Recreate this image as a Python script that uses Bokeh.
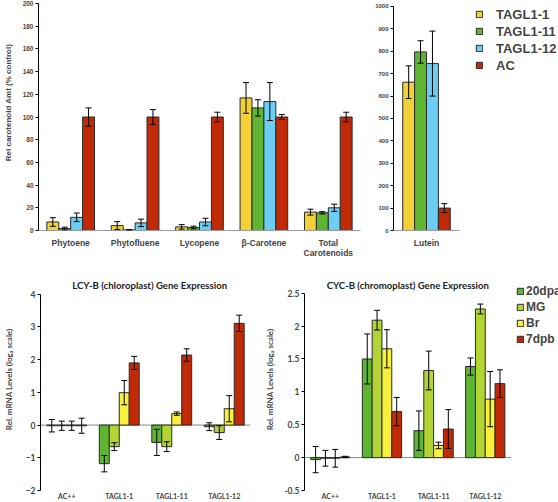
from bokeh.plotting import figure
from bokeh.layouts import column, row
from bokeh.models import (ColumnDataSource, Range1d, Whisker, TeeHead, Legend, LegendItem,
                          FixedTicker, NumeralTickFormatter, Label)
from bokeh.embed import file_html
from bokeh.resources import INLINE

# ---------------- data ----------------
carot_cats = ["Phytoene", "Phytofluene", "Lycopene", "\u03b2-Carotene", "Total\nCarotenoids"]
lines_top = ["TAGL1-1", "TAGL1-11", "TAGL1-12", "AC"]
carot_vals = {
    "TAGL1-1":  [7.5, 4.3, 3.2, 116.8, 16.2],
    "TAGL1-11": [1.7, 0.5, 2.6, 108.0, 15.6],
    "TAGL1-12": [11.6, 6.7, 7.5, 113.6, 20.0],
    "AC":       [100, 100, 100, 100, 100],
}
carot_err = {
    "TAGL1-1":  [3.8, 3.5, 2.0, 13.5, 2.6],
    "TAGL1-11": [1.2, 0.3, 1.2, 7.2, 1.0],
    "TAGL1-12": [3.8, 3.3, 3.3, 16.7, 3.2],
    "AC":       [8.0, 6.5, 4.2, 2.2, 4.2],
}
lutein_cats = ["Lutein"]
lutein_vals = {"TAGL1-1": [662], "TAGL1-11": [797], "TAGL1-12": [745], "AC": [100]}
lutein_err = {"TAGL1-1": [73], "TAGL1-11": [50], "TAGL1-12": [145], "AC": [20]}
top_colors = ["#F3D136", "#5DB531", "#6DCEF5", "#C02A06"]

gene_cats = ["AC++", "TAGL1-1", "TAGL1-11", "TAGL1-12"]
stages = ["20dpa", "MG", "Br", "7dpb"]
stage_colors = ["#5DB531", "#B4D334", "#F8F03A", "#C02A06"]
lcyb_vals = {
    "20dpa": [-0.02, -1.18, -0.53, -0.05],
    "MG":    [-0.02, -0.66, -0.66, -0.23],
    "Br":    [-0.02, 0.99, 0.35, 0.50],
    "7dpb":  [-0.02, 1.90, 2.14, 3.11],
}
lcyb_err = {
    "20dpa": [0.19, 0.25, 0.40, 0.12],
    "MG":    [0.14, 0.12, 0.15, 0.21],
    "Br":    [0.14, 0.37, 0.05, 0.40],
    "7dpb":  [0.23, 0.20, 0.19, 0.25],
}
cycb_vals = {
    "20dpa": [-0.03, 1.50, 0.41, 1.385],
    "MG":    [-0.01, 2.09, 1.325, 2.26],
    "Br":    [-0.01, 1.655, 0.185, 0.89],
    "7dpb":  [0.01, 0.70, 0.435, 1.125],
}
cycb_err = {
    "20dpa": [0.20, 0.38, 0.30, 0.13],
    "MG":    [0.12, 0.15, 0.295, 0.075],
    "Br":    [0.135, 0.29, 0.05, 0.42],
    "7dpb":  [0.01, 0.215, 0.295, 0.21],
}

ARIAL = "Liberation Sans"
CAL = "Lato"
NB = "\u00a0"


def grouped(p, cats, series, vals, errs, colors, width):
    renderers = []
    n = len(series)
    for k, s in enumerate(series):
        off = (k - (n - 1) / 2) * width
        xs = [i + 0.5 + off for i in range(len(cats))]
        v = vals[s]
        e = errs[s]
        src = ColumnDataSource(dict(x=xs, top=v,
                                    upper=[a + b for a, b in zip(v, e)],
                                    lower=[a - b for a, b in zip(v, e)]))
        r = p.vbar(x="x", top="top", bottom=0, width=width, source=src,
                   fill_color=colors[k], line_color="#2a2a2a", line_width=1)
        w = Whisker(base="x", upper="upper", lower="lower", source=src,
                    line_color="black", line_width=1, level="annotation",
                    upper_head=TeeHead(size=6, line_color="black", line_width=1),
                    lower_head=TeeHead(size=6, line_color="black", line_width=1))
        p.add_layout(w)
        renderers.append((s, r))
    return renderers


def style(p, font, tick_size, cats, cat_size, label_font, xline="#9a9a9a"):
    p.grid.grid_line_color = None
    p.outline_line_color = None
    p.background_fill_color = "white"
    p.border_fill_color = "white"
    p.xaxis.ticker = FixedTicker(ticks=[i + 0.5 for i in range(len(cats))])
    p.xaxis.major_label_overrides = {i + 0.5: c for i, c in enumerate(cats)}
    p.xaxis.bounds = (0, len(cats))
    p.xaxis.major_tick_line_color = None
    p.xaxis.minor_tick_line_color = None
    p.xaxis.major_tick_in = 0
    p.xaxis.major_tick_out = 0
    p.xaxis.minor_tick_in = 0
    p.xaxis.minor_tick_out = 0
    p.xaxis.axis_label_standoff = 0
    p.xaxis.axis_line_color = xline
    p.xaxis.major_label_text_font = label_font
    p.xaxis.major_label_text_font_style = "bold"
    p.xaxis.major_label_text_font_size = cat_size
    p.xaxis.major_label_text_line_height = 1.0
    p.yaxis.major_label_text_font = font
    p.yaxis.major_label_text_font_style = "bold"
    p.yaxis.major_label_text_font_size = tick_size
    p.yaxis.axis_line_color = "black"
    p.yaxis.major_tick_line_color = "black"
    p.yaxis.major_tick_in = 0
    p.yaxis.major_tick_out = 3
    p.yaxis.minor_tick_line_color = None
    p.yaxis.minor_tick_in = 0
    p.yaxis.minor_tick_out = 0
    p.yaxis.major_label_standoff = 2


def fig(w, h, left, right, top, bottom, yr, xmax):
    return figure(width=w, height=h, min_border_left=left, min_border_right=right,
                  min_border_top=top, min_border_bottom=bottom, x_range=Range1d(0, xmax),
                  y_range=yr, output_backend="svg", toolbar_location=None, title=None)


def legend(p, items, loc, font_size, standoff, row_h):
    leg = Legend(items=[LegendItem(label=s, renderers=[r]) for s, r in items],
                 location=loc, padding=0, margin=0, spacing=1,
                 glyph_width=8, glyph_height=8, label_standoff=standoff, label_height=row_h,
                 label_text_font=ARIAL, label_text_font_style="bold",
                 label_text_font_size=font_size, border_line_color=None,
                 background_fill_alpha=0)
    p.add_layout(leg)


def panel_title(p, x, y, text):
    p.add_layout(Label(x=x, y=y, text=text, text_align="center", text_baseline="middle",
                       text_font=CAL, text_font_size="9.6px", text_font_style="bold",
                       text_color="#222222"))


def ylabel(p, text, font, standoff):
    p.yaxis.axis_label = text
    p.yaxis.axis_label_text_font = font
    p.yaxis.axis_label_text_font_style = "bold"
    p.yaxis.axis_label_text_font_size = "8px"
    p.yaxis.axis_label_standoff = standoff


# ---------- top-left ----------
pa = fig(365, 260, 35, 5, 3, 27, Range1d(0, 200), len(carot_cats))
grouped(pa, carot_cats, lines_top, carot_vals, carot_err, top_colors, 0.185)
style(pa, ARIAL, "6.5px", carot_cats, "8.5px", ARIAL)
pa.yaxis.ticker = FixedTicker(ticks=list(range(0, 201, 20)))
ylabel(pa, NB * 13 + "Rel carotenoid Amt (% control)", ARIAL, 7)
pa.xaxis.major_label_standoff = 7

# ---------- lutein (frame extends under the legend) ----------
b_ppu = 227 / 1000
pb = fig(193, 260, 28, 0, 3, 27, Range1d(0, 230 / b_ppu), len(lutein_cats) * 165 / 66)
rb = grouped(pb, lutein_cats, lines_top, lutein_vals, lutein_err, top_colors, 0.18)
style(pb, ARIAL, "6px", lutein_cats, "8.5px", ARIAL)
pb.yaxis.ticker = FixedTicker(ticks=list(range(0, 1001, 100)))
pb.yaxis.bounds = (0, 1000)
pb.xaxis.major_label_standoff = 7
legend(pb, rb, (82, 157), "13px", 13, 16)

# ---------- LCY-B (frame extends under the title) ----------
frame_h = 232
c_ppu = 198 / 6.0
c_lo = -2
pc = fig(262, 242, 35, 12, 0, 10, Range1d(c_lo, c_lo + frame_h / c_ppu), len(gene_cats))
pc.segment(x0=0, y0=0, x1=len(gene_cats), y1=0, line_color="#8a8a8a", line_width=1)
grouped(pc, gene_cats, stages, lcyb_vals, lcyb_err, stage_colors, 0.19)
style(pc, CAL, "8.5px", gene_cats, "7px", CAL, xline=None)
pc.yaxis.ticker = FixedTicker(ticks=list(range(-2, 5)))
pc.yaxis.bounds = (-2, 4)
ylabel(pc, "Rel. mRNA Levels (log\u2082 scale)" + NB * 4, CAL, 9)
pc.xaxis.major_label_standoff = 1
panel_title(pc, len(gene_cats) / 2 + 0.08, c_lo + (frame_h - 25) / c_ppu,
            "LCY-B (chloroplast) Gene Expression")

# ---------- CYC-B (frame extends under the legend and title) ----------
d_ppu = 199 / 3.0
d_lo = -0.5
pd_ = fig(296, 242, 39, 0, 0, 10, Range1d(d_lo, d_lo + frame_h / d_ppu),
          len(gene_cats) * 257 / 209)
pd_.segment(x0=0, y0=0, x1=len(gene_cats), y1=0, line_color="#8a8a8a", line_width=1)
rd = grouped(pd_, gene_cats, stages, cycb_vals, cycb_err, stage_colors, 0.19)
style(pd_, CAL, "8.5px", gene_cats, "7px", CAL, xline=None)
pd_.yaxis.ticker = FixedTicker(ticks=[-0.5, 0, 0.5, 1, 1.5, 2, 2.5])
pd_.yaxis.bounds = (-0.5, 2.5)
pd_.yaxis.formatter = NumeralTickFormatter(format="0.[0]")
ylabel(pd_, "Rel. mRNA Levels (log\u2082 scale)" + NB * 4, CAL, 6)
pd_.xaxis.major_label_standoff = 1
panel_title(pd_, len(gene_cats) / 2, d_lo + (frame_h - 25) / d_ppu,
            "CYC-B (chromoplast) Gene Expression")
legend(pd_, rd, (212, 144), "12px", 2, 15)

p = column(row(pa, pb, spacing=0), row(pc, pd_, spacing=0), spacing=0)

open("out.html", "w").write(file_html(p, INLINE))
